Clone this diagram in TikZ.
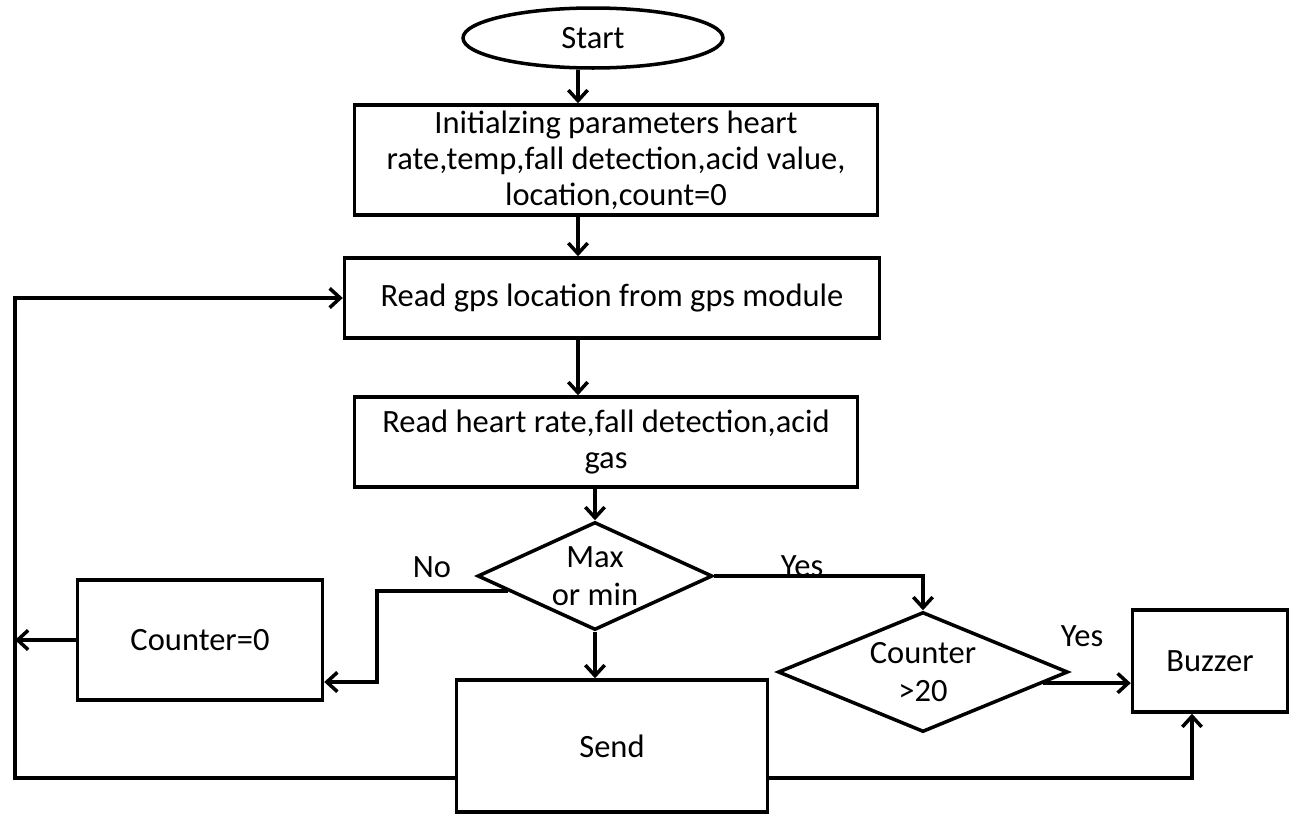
\documentclass[tikz,border=0pt]{standalone}
\usepackage{fontspec}
\setmainfont{Carlito}
\usetikzlibrary{shapes.geometric, arrows.meta, calc}

\begin{document}
\begin{tikzpicture}[x=0.02cm, y=-0.02cm, line width=2pt,
		every node/.style={font=\fontsize{18.5}{20.5}\selectfont},
		box/.style={draw, rectangle, align=center, inner sep=2pt},
		dec/.style={draw, diamond, aspect=2, inner sep=0pt, align=center,
			font=\fontsize{18.5}{21.5}\selectfont},
		arr/.style={-{Straight Barb[length=6pt,width=11pt]}}]
				\useasboundingbox (0,0) rectangle (1292,815);
				% blocks
				\node[draw, ellipse, minimum width=5.2cm, minimum height=1.2cm] (start) at (593,38) {Start};
				\node[box, minimum width=10.46cm, minimum height=2.2cm] (init) at (616,160)
					{Initialzing parameters heart\\ rate,temp,fall detection,acid value,\\ location,count=0};
				\node[box, minimum width=10.7cm, minimum height=1.6cm] (rgps) at (612,298)
					{Read gps location from gps module};
				\node[box, minimum width=10.06cm, minimum height=1.8cm] (rhr) at (606,442)
					{Read heart rate,fall detection,acid\\ gas};
				\node[dec, minimum width=4.7cm, minimum height=2.16cm] (d1) at (595,576) {Max\\ or min};
				\node[box, minimum width=4.9cm, minimum height=2.4cm] (cnt) at (200,640) {Counter=0};
				\node[box, minimum width=6.22cm, minimum height=2.64cm] (send) at (612,746) {Send};
				\node[dec, minimum width=5.8cm, minimum height=2.4cm] (d2) at (923,672) {Counter\\ >20};
				\node[box, minimum width=3.1cm, minimum height=2.04cm] (buz) at (1210,661) {Buzzer};
				% labels
				\node (lno) at (432,567) {No};
				\node (lyes) at (802,566) {Yes};
				\node (lyestwo) at (1082,636) {Yes};
				% helper points
				\coordinate (tr) at (578,0);
				\coordinate (nob) at (377,682);
				\coordinate (sb) at (0,778);
				\coordinate (bz) at (1192,0);
				\coordinate (lb) at (15,778);
				\coordinate (lt) at (15,298);
				% main flow
				\draw[arr] (start.south -| tr) -- (init.north -| tr);
				\draw[arr] (init.south -| tr) -- (rgps.north -| tr);
				\draw[arr] (rgps.south -| tr) -- (rhr.north -| tr);
				\draw[arr] (rhr.south -| d1.north) -- (d1.north);
				\draw[arr] (d1.south) -- (d1.south |- send.north);
				% branches
				\draw[arr] ($(d1.west)!0.27!(d1.south)$) -| (nob) -- (nob -| cnt.east);
				\draw[arr] (d1.east) -| (d2.north);
				\draw[arr] ($(d2.east)!0.18!(d2.south)$) coordinate (ytwo) -- (ytwo -| buz.west);
				\draw[arr] (send.east |- sb) -| (buz.south -| bz);
				% loop back
				\draw[arr] (send.west |- lb) -- (lb) -- (lt) -- (rgps.west);
				\draw[arr] (cnt.west) -- (cnt.west -| lb);
			\end{tikzpicture}
\end{document}
